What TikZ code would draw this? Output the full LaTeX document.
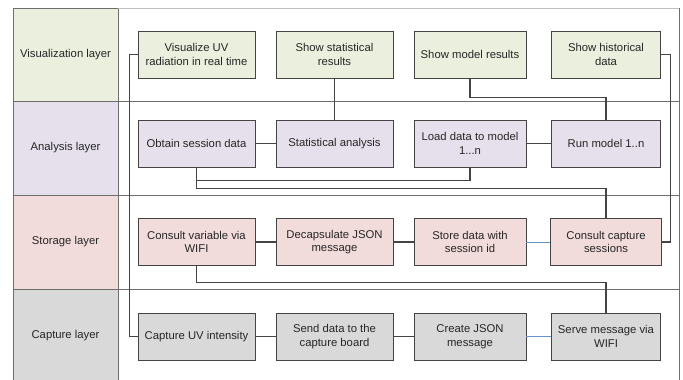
\documentclass[tikz,border=0pt]{standalone}
\usepackage{fontspec}
\setmainfont{Liberation Sans}
\usepackage{xcolor}
\usetikzlibrary{positioning, calc}
\definecolor{visC}{HTML}{EBF0DE}
\definecolor{anaC}{HTML}{E6E0EC}
\definecolor{stoC}{HTML}{F2DCDB}
\definecolor{capC}{HTML}{D9D9D9}
\definecolor{rule}{HTML}{6E6E6E}
\definecolor{lineC}{HTML}{444444}
\definecolor{blueL}{HTML}{6A93C8}
\tikzset{
  layerbox/.style={draw=rule, line width=0.9pt},
  layertxt/.style={font=\fontsize{11.3}{13.5}\selectfont, text=black!85},
  procbox/.style={rectangle, draw=lineC, line width=0.8pt, minimum height=47pt,
                  align=center, inner sep=1pt,
                  font=\fontsize{11.3}{13.8}\selectfont, text=black!85},
  link/.style={draw=lineC, line width=1.1pt},
  linkB/.style={draw=blueL, line width=0.9pt},
}

\begin{document}
\begin{tikzpicture}[x=1pt, y=-1pt]
    \useasboundingbox (0,0) rectangle (683,380);
    % layer column
    \foreach \ya/\yb/\c/\lbl in {8/101/visC/Visualization layer,
        101/195/anaC/Analysis layer, 195/289/stoC/Storage layer,
        289/382/capC/Capture layer}{
      \filldraw[layerbox, fill=\c] (13,\ya) rectangle (118,\yb);
      \node[layertxt] at (65.5,{(\ya+\yb)/2}) {\lbl};
    }
    % frame
    \draw[draw=black!25, line width=0.9pt] (118,8) -- (679,8);
    \draw[draw=rule, line width=1pt] (679,8) -- (679,382);
    \foreach \y in {101,195,289}{
      \draw[draw=rule, line width=0.8pt] (118,\y) -- (679,\y);
    }
    % visualization layer
    \node[procbox, fill=visC, minimum width=117pt] (vis1) at (196.5,54.5) {Visualize UV\\radiation in real time};
    \node[procbox, fill=visC, minimum width=117pt] (vis2) at (334.5,54.5) {Show statistical\\results};
    \node[procbox, fill=visC, minimum width=112pt] (vis3) at (470,54.5) {Show model results};
    \node[procbox, fill=visC, minimum width=109pt] (vis4) at (606,54.5) {Show historical\\data};
    % analysis layer
    \node[procbox, fill=anaC, minimum width=117pt] (ana1) at (196.5,143.5) {Obtain session data};
    \node[procbox, fill=anaC, minimum width=117pt] (ana2) at (334.5,143.5) {Statistical analysis};
    \node[procbox, fill=anaC, minimum width=112pt] (ana3) at (470,143.5) {Load data to model\\1...n};
    \node[procbox, fill=anaC, minimum width=109pt] (ana4) at (606,143.5) {Run model 1..n};
    % storage layer
    \node[procbox, fill=stoC, minimum width=117pt] (sto1) at (196.5,242) {Consult variable via\\WIFI};
    \node[procbox, fill=stoC, minimum width=117pt] (sto2) at (334.5,242) {Decapsulate JSON\\message};
    \node[procbox, fill=stoC, minimum width=112pt] (sto3) at (470,242) {Store data with\\session id};
    \node[procbox, fill=stoC, minimum width=111pt] (sto4) at (606,242) {Consult capture\\sessions};
    % capture layer
    \node[procbox, fill=capC, minimum width=117pt] (cap1) at (196.5,336.5) {Capture UV intensity};
    \node[procbox, fill=capC, minimum width=117pt] (cap2) at (334.5,336.5) {Send data to the\\capture board};
    \node[procbox, fill=capC, minimum width=112pt] (cap3) at (470,336.5) {Create JSON\\message};
    \node[procbox, fill=capC, minimum width=109pt] (cap4) at (606,336.5) {Serve message via\\WIFI};
    % connectors
    \draw[link] (vis1.west) -- ++(-8,0) |- (cap1.west);
    \draw[link] (vis2.south) -- (ana2.north);
    \draw[link] (vis3.south) -- ++(0,19) -| (ana4.north);
    \draw[link] (vis4.east) -- ++(10,0) |- (sto4.east);
    \draw[link] (ana1) -- (ana2);
    \draw[link] (ana3) -- (ana4);
    \draw[link] (ana1.south) -- ++(0,13) -| (ana3.south);
    \draw[link] (ana1.south) -- ++(0,21) -| (sto4.north);
    \draw[link] (sto1) -- (sto2);
    \draw[link] (sto2) -- (sto3);
    \draw[linkB] (sto3) -- (sto4);
    \draw[link] (sto1.south) -- ++(0,17) -| (cap4.north);
    \draw[link] (cap1) -- (cap2);
    \draw[link] (cap2) -- (cap3);
    \draw[linkB] (cap3) -- (cap4);
\end{tikzpicture}
\end{document}
